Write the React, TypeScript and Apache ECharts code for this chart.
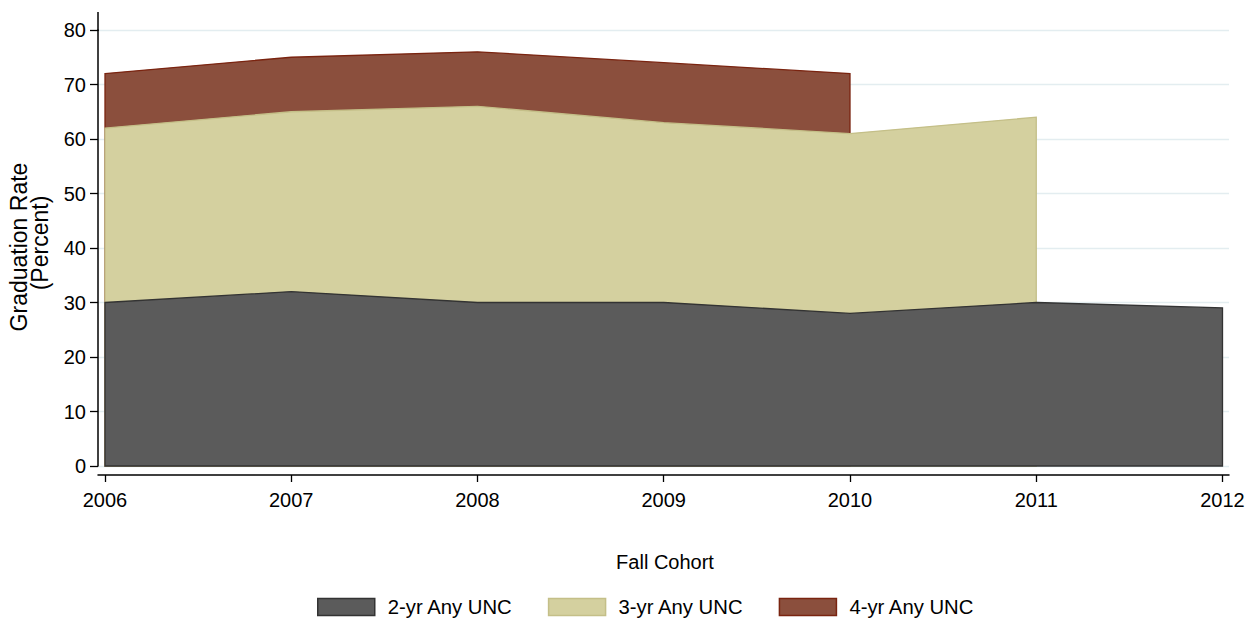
import React, { useEffect, useRef } from 'react';
import * as echarts from 'echarts';

const cohorts = [2006, 2007, 2008, 2009, 2010, 2011, 2012];
const twoYr = [30, 32, 30, 30, 28, 30, 29];
const threeYr = [62, 65, 66, 63, 61, 64];
const fourYr = [72, 75, 76, 74, 72];
const yTicks = [0, 10, 20, 30, 40, 50, 60, 70, 80];
const seriesNames = ['2-yr Any UNC', '3-yr Any UNC', '4-yr Any UNC'];
const fills = ['#5b5b5b', '#d4d09f', '#8b4f3d'];
const strokes = ['#333333', '#c4bf88', '#7a2410'];

const FONT = 'Liberation Sans, Arial, sans-serif';

function areaRender(values: number[], fill: string, stroke: string) {
  return (params: any, api: any) => {
    if (params.dataIndex !== 0) return null;
    const n = values.length;
    const pts: number[][] = values.map((v, i) => api.coord([cohorts[i], v]));
    pts.push(api.coord([cohorts[n - 1], 0]));
    pts.push(api.coord([cohorts[0], 0]));
    return {
      type: 'polygon',
      shape: { points: pts },
      style: { fill, stroke, lineWidth: 1.3, lineJoin: 'miter' },
    };
  };
}

function makeSeries(idx: number, values: number[]) {
  return {
    type: 'custom',
    name: seriesNames[idx],
    coordinateSystem: 'cartesian2d',
    data: values.map((v, i) => [cohorts[i], v]),
    encode: { x: 0, y: 1 },
    itemStyle: { color: fills[idx], borderColor: strokes[idx], borderWidth: 1.5 },
    renderItem: areaRender(values, fills[idx], strokes[idx]),
    z: 2 + (2 - idx),
    silent: true,
  };
}

export default function App() {
  const ref = useRef<HTMLDivElement>(null);
  useEffect(() => {
    if (!ref.current) return;
    const chart = echarts.init(ref.current, null, { renderer: 'svg' });
    const xMin = 2006 - 7 / 186.3;
    const xMax = 2012 + 6.5 / 186.3;
    chart.setOption({
      animation: false,
      textStyle: { fontFamily: FONT },
      grid: { left: 98, right: 26, top: 30, bottom: 157, containLabel: false },
      xAxis: {
        type: 'value',
        min: xMin,
        max: xMax,
        offset: 9,
        axisLine: { show: true, onZero: false, lineStyle: { color: '#000', width: 1.5 } },
        axisTick: { show: true, length: 7, customValues: cohorts, lineStyle: { color: '#000', width: 1.3 } },
        axisLabel: {
          customValues: cohorts,
          formatter: (v: number) => String(Math.round(v)),
          color: '#000',
          fontSize: 20,
          fontFamily: FONT,
          margin: 15,
        },
        splitLine: { show: false },
      },
      yAxis: {
        type: 'value',
        min: 0,
        max: 80,
        interval: 10,
        axisLine: { show: true, lineStyle: { color: '#000', width: 1.5 } },
        axisTick: { show: true, length: 8, lineStyle: { color: '#000', width: 1.3 } },
        axisLabel: { color: '#000', fontSize: 20, fontFamily: FONT, margin: 12 },
        splitLine: { show: true, lineStyle: { color: '#e3edf0', width: 1.3 } },
      },
      legend: {
        left: 317,
        top: 597,
        padding: 0,
        itemWidth: 57,
        itemHeight: 17,
        itemGap: 35,
        icon: 'rect',
        textStyle: { color: '#000', fontSize: 20.3, fontFamily: FONT, padding: [0, 0, 0, 8] },
        data: seriesNames.map((n, i) => ({
          name: n,
          icon: 'rect',
          itemStyle: { color: fills[i], borderColor: strokes[i], borderWidth: 1.5 },
        })),
      },
      graphic: [
        {
          type: 'line',
          shape: { x1: 98, y1: 12, x2: 98, y2: 31 },
          style: { stroke: '#000', lineWidth: 1.5 },
          z: 10,
        },
        {
          type: 'text',
          x: 19,
          y: 247,
          rotation: Math.PI / 2,
          style: { text: 'Graduation Rate', fill: '#000', font: `23px ${FONT}`, align: 'center', verticalAlign: 'middle' },
        },
        {
          type: 'text',
          x: 40,
          y: 243,
          rotation: Math.PI / 2,
          style: { text: '(Percent)', fill: '#000', font: `23px ${FONT}`, align: 'center', verticalAlign: 'middle' },
        },
        {
          type: 'text',
          x: 665,
          y: 562,
          style: { text: 'Fall Cohort', fill: '#000', font: `20px ${FONT}`, align: 'center', verticalAlign: 'middle' },
        },
      ],
      series: [
        makeSeries(2, fourYr),
        makeSeries(1, threeYr),
        makeSeries(0, twoYr),
      ],
    });
    return () => chart.dispose();
  }, []);
  return <div ref={ref} style={{ position: 'absolute', left: 0, top: 0, width: 1255, height: 623 }} />;
}
